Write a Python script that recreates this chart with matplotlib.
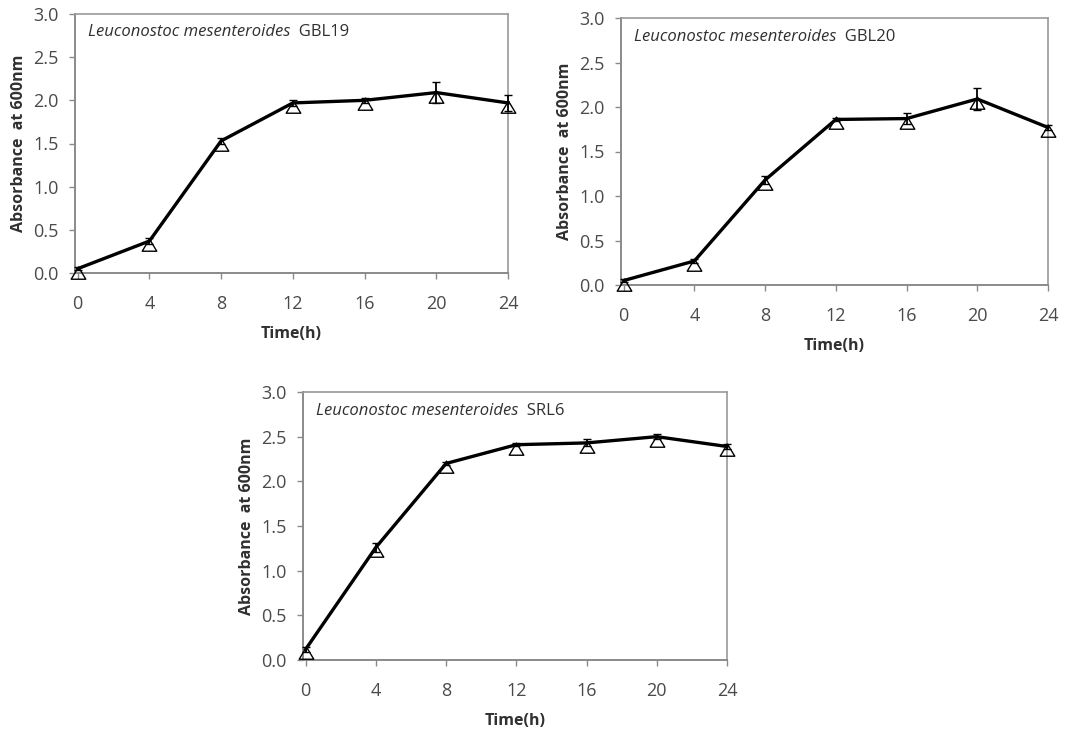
"""Growth curves of three Leuconostoc mesenteroides strains (absorbance at 600 nm)."""

import matplotlib

matplotlib.use("Agg")

import matplotlib.pyplot as plt
from matplotlib.path import Path

hours = [0, 4, 8, 12, 16, 20, 24]
y_ticks = [0.0, 0.5, 1.0, 1.5, 2.0, 2.5, 3.0]

strains = ["GBL19", "GBL20", "SRL6"]
species = "Leuconostoc mesenteroides"

gbl19_od = [0.05, 0.37, 1.53, 1.97, 2.00, 2.09, 1.97]
gbl19_err = [0.02, 0.03, 0.03, 0.03, 0.03, 0.12, 0.09]
gbl20_od = [0.05, 0.27, 1.18, 1.86, 1.87, 2.09, 1.77]
gbl20_err = [0.02, 0.02, 0.04, 0.02, 0.06, 0.12, 0.03]
srl6_od = [0.12, 1.26, 2.20, 2.41, 2.43, 2.50, 2.39]
srl6_err = [0.03, 0.05, 0.02, 0.02, 0.04, 0.03, 0.03]

plt.rcParams["font.family"] = ["Open Sans", "DejaVu Sans"]

# open triangle hanging just below the data point, like the Excel original
triangle = Path([(0, 0.2), (-0.6, -0.8), (0.6, -0.8), (0, 0.2)],
                [Path.MOVETO, Path.LINETO, Path.LINETO, Path.CLOSEPOLY])

fig = plt.figure(figsize=(10.83, 7.35), dpi=100)
W, H = 1083, 735
# axes boxes in pixel coordinates: left, top, right, bottom
boxes = [(75, 14, 508, 273), (621, 18, 1048, 285), (303, 392, 727, 660)]
series = [(gbl19_od, gbl19_err), (gbl20_od, gbl20_err), (srl6_od, srl6_err)]

for (l, t, r, b), (od, err), strain in zip(boxes, series, strains):
    ax = fig.add_axes([l / W, 1 - b / H, (r - l) / W, (b - t) / H])
    ax.errorbar(hours, od, yerr=err, color="black", lw=2.4, elinewidth=1.3, capsize=3, capthick=1.3,
                marker=triangle, markersize=14, markerfacecolor="none", markeredgecolor="black",
                markeredgewidth=1.0, zorder=3, clip_on=False)
    ax.set_xlim(-0.15, 24)
    ax.set_ylim(0, 3.0)
    ax.set_xticks(hours)
    ax.set_yticks(y_ticks)
    ax.set_yticklabels([f"{v:.1f}" for v in y_ticks])
    for side in ("left", "bottom"):
        ax.spines[side].set_color("#8a8a8a")
        ax.spines[side].set_linewidth(1.4)
    for side in ("top", "right"):
        ax.spines[side].set_color("#9a9a9a")
        ax.spines[side].set_linewidth(1.2)
    ax.tick_params(axis="both", direction="out", length=4, width=1, color="#8a8a8a",
                   labelsize=13, labelcolor="#4a4a4a")
    ax.tick_params(axis="x", pad=12)
    ax.tick_params(axis="y", pad=8)
    ax.set_xlabel("Time(h)", fontsize=11.5, fontweight="bold", color="#303030", labelpad=9)
    ax.set_ylabel("Absorbance  at 600nm", fontsize=11.5, fontweight="bold", color="#303030", labelpad=4)
    name = ax.text(0.03, 0.93, species, transform=ax.transAxes, fontsize=12, style="italic",
                   color="#303030", va="center", ha="left")
    ax.annotate("  " + strain, xy=(1, 0.5), xycoords=name, fontsize=12, color="#303030",
                va="center", ha="left")

fig.savefig("out.png", dpi=100)
